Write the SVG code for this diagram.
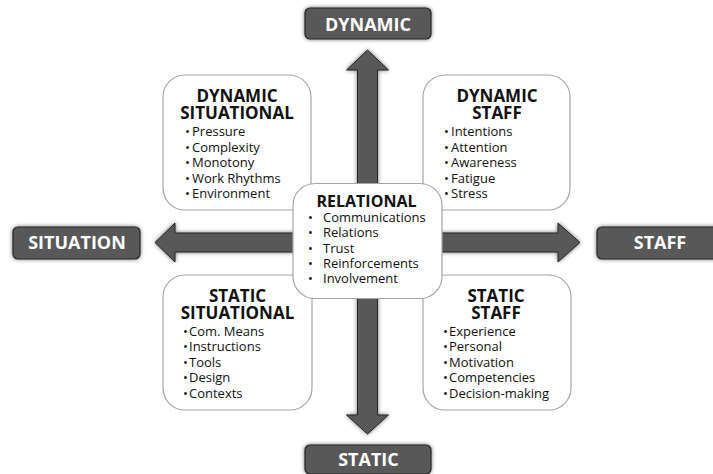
<svg xmlns="http://www.w3.org/2000/svg" width="713" height="474" viewBox="0 0 713 474">
<defs>
<filter id="sh" x="-20%" y="-20%" width="140%" height="140%">
<feDropShadow dx="0" dy="0" stdDeviation="2" flood-color="#000" flood-opacity="0.55"/>
</filter>
</defs>
<style>
.arrow{fill:#595959;stroke:#262626;stroke-width:1;filter:url(#sh)}
.lab rect{fill:#595959;stroke:#262626;stroke-width:1.2;filter:url(#sh)}
.lab text{font-family:"Open Sans","DejaVu Sans",sans-serif;font-weight:bold;font-size:18px;fill:#fff;text-anchor:middle}
.box rect{fill:#fff;stroke:#a6a6a6;stroke-width:1.2}
.t{font-family:"Open Sans","DejaVu Sans",sans-serif;font-weight:bold;font-size:17px;fill:#111;text-anchor:middle}
.i{font-family:"Open Sans","DejaVu Sans",sans-serif;font-size:13px;fill:#111}
</style>
<rect width="713" height="474" fill="#fff"/>
<g id="connectors">
<polygon class="arrow" points="367.5,50 388.5,70 377.5,70 377.5,415 388.5,415 367.5,434 346.5,415 357.5,415 357.5,70 346.5,70"/>
<polygon class="arrow" points="155,242.5 175,223 175,233 558,233 558,223 580,242.5 558,262 558,252 175,252 175,262"/>
</g>
<g id="dynamic" class="lab"><rect x="305" y="8" width="126" height="31" rx="5"/><text x="368" y="30.5">DYNAMIC</text></g>
<g id="static" class="lab"><rect x="305" y="445" width="126" height="29" rx="5"/><text x="368.5" y="466">STATIC</text></g>
<g id="situation" class="lab"><rect x="13" y="227" width="127" height="32" rx="5"/><text x="77" y="249">SITUATION</text></g>
<g id="staff" class="lab"><rect x="597" y="227" width="127" height="32" rx="5"/><text x="660" y="249">STAFF</text></g>
<g id="dynamic-situational" class="box">
<rect x="163" y="75" width="148" height="135" rx="22"/>
<text class="t" x="237" y="102">DYNAMIC</text>
<text class="t" x="237" y="119">SITUATIONAL</text>
<g class="i"><text x="185" y="136">•</text><text x="192" y="136">Pressure</text>
<text x="185" y="151.5">•</text><text x="192" y="151.5">Complexity</text>
<text x="185" y="167">•</text><text x="192" y="167">Monotony</text>
<text x="185" y="182.5">•</text><text x="192" y="182.5">Work Rhythms</text>
<text x="185" y="198">•</text><text x="192" y="198">Environment</text></g>
</g>
<g id="dynamic-staff" class="box">
<rect x="423" y="75" width="147" height="135" rx="22"/>
<text class="t" x="497" y="102">DYNAMIC</text>
<text class="t" x="497" y="119">STAFF</text>
<g class="i"><text x="444" y="136">•</text><text x="451" y="136">Intentions</text>
<text x="444" y="151.5">•</text><text x="451" y="151.5">Attention</text>
<text x="444" y="167">•</text><text x="451" y="167">Awareness</text>
<text x="444" y="182.5">•</text><text x="451" y="182.5">Fatigue</text>
<text x="444" y="198">•</text><text x="451" y="198">Stress</text></g>
</g>
<g id="static-situational" class="box">
<rect x="163" y="275" width="149" height="135" rx="22"/>
<text class="t" x="237.5" y="302">STATIC</text>
<text class="t" x="237.5" y="319">SITUATIONAL</text>
<g class="i"><text x="183" y="335.5">•</text><text x="189" y="335.5">Com. Means</text>
<text x="183" y="351">•</text><text x="189" y="351">Instructions</text>
<text x="183" y="366.5">•</text><text x="189" y="366.5">Tools</text>
<text x="183" y="382">•</text><text x="189" y="382">Design</text>
<text x="183" y="397.5">•</text><text x="189" y="397.5">Contexts</text></g>
</g>
<g id="static-staff" class="box">
<rect x="423" y="275" width="148" height="135" rx="22"/>
<text class="t" x="496" y="302">STATIC</text>
<text class="t" x="496" y="319">STAFF</text>
<g class="i"><text x="443" y="335.5">•</text><text x="449" y="335.5">Experience</text>
<text x="443" y="351">•</text><text x="449" y="351">Personal</text>
<text x="443" y="366.5">•</text><text x="449" y="366.5">Motivation</text>
<text x="443" y="382">•</text><text x="449" y="382">Competencies</text>
<text x="443" y="397.5">•</text><text x="449" y="397.5">Decision-making</text></g>
</g>
<g id="relational" class="box">
<rect x="293" y="183.5" width="149" height="115" rx="22"/>
<text class="t" x="366.5" y="207" style="font-size:16px">RELATIONAL</text>
<g class="i"><text x="308" y="222">•</text><text x="323" y="222">Communications</text>
<text x="308" y="237">•</text><text x="323" y="237">Relations</text>
<text x="308" y="252.5">•</text><text x="323" y="252.5">Trust</text>
<text x="308" y="268">•</text><text x="323" y="268">Reinforcements</text>
<text x="308" y="283">•</text><text x="323" y="283">Involvement</text></g>
</g>
</svg>
